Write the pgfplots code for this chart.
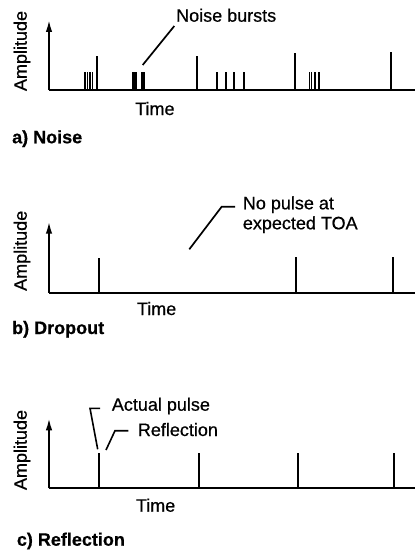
\documentclass[border=0pt]{standalone}
\usepackage{pgfplots}
\pgfplotsset{compat=1.18}
\usetikzlibrary{arrows.meta}
\usepackage{fontspec}
\setmainfont[FakeBold=0.6]{Liberation Sans}
\newfontfamily\labelfont[FakeBold=0.6]{Liberation Sans}
\pgfplotsset{
  pulseaxis/.style={
    scale only axis, width=366pt, anchor=south west,
    xmin=49, xmax=415, ymin=0,
    axis x line=bottom, axis y line=left,
    xtick=\empty, ytick=\empty, clip=false,
    x axis line style={-, line width=2pt},
    y axis line style={-{Latex[length=12pt,width=6.5pt]}, line width=1.8pt},
  },
  pulse/.style={ycomb, black, line width=2.1pt, mark=none},
}
\begin{document}
\fontsize{18}{21}\selectfont
\begin{tikzpicture}
\useasboundingbox (0pt,0pt) rectangle (417pt,-552pt);
% ---------- a) Noise ----------
\begin{axis}[pulseaxis, at={(49pt,-90pt)}, height=70pt, ymax=70]
\addplot[pulse] coordinates {(97.3,34.5) (196.7,34.5) (295,37) (390.7,38)};
\addplot[pulse, line width=1.4pt] coordinates {(85,18) (87.7,18) (90,18) (92.7,18)};
\addplot[pulse, line width=4.6pt] coordinates {(134.7,18) (142.8,18)};
\addplot[pulse, line width=1.8pt] coordinates {(217.3,18.5) (225.7,18.5) (234.3,18.5) (244,18.5)};
\addplot[pulse, line width=1.4pt] coordinates {(309.3,18.5) (311.7,18.5) (315,18.5) (319,18.5)};
\end{axis}
% ---------- b) Dropout ----------
\begin{axis}[pulseaxis, at={(49pt,-292.7pt)}, height=71pt, ymax=71]
\addplot[pulse] coordinates {(98.7,35) (296,35.5) (393.3,35.5)};
\end{axis}
% ---------- c) Reflection ----------
\begin{axis}[pulseaxis, at={(49pt,-488.3pt)}, height=70pt, ymax=70]
\addplot[pulse] coordinates {(98.7,35) (199,35) (297.7,35.5) (394.3,35.5)};
\end{axis}
\begin{scope}[x=1pt,y=1pt]
\node[rotate=90, anchor=base] at (26.7,-51) {\labelfont Amplitude};
\node[anchor=base west, inner sep=0] at (135,-115) {\labelfont Time};
\node[anchor=base west, inner sep=0] at (12,-143.3) {\bfseries a) Noise};
\node[anchor=base west, inner sep=0] at (176,-21.7) {\labelfont Noise bursts};
\draw[line width=1.7pt] (174.3,-26) -- (142.7,-65);
\node[rotate=90, anchor=base] at (26.7,-250.8) {\labelfont Amplitude};
\node[anchor=base west, inner sep=0] at (136.7,-315) {\labelfont Time};
\node[anchor=base west, inner sep=0] at (12,-334) {\bfseries b) Dropout};
\node[anchor=base west, inner sep=0] at (242.7,-209.3) {\labelfont No pulse at};
\node[anchor=base west, inner sep=0] at (242.7,-229.3) {\labelfont expected TOA};
\draw[line width=1.7pt] (189.3,-249.3) -- (221.7,-206.7) -- (235,-206.7);
\node[rotate=90, anchor=base] at (26.7,-450) {\labelfont Amplitude};
\node[anchor=base west, inner sep=0] at (135.7,-511.7) {\labelfont Time};
\node[anchor=base west, inner sep=0] at (16.7,-545.7) {\bfseries c) Reflection};
\node[anchor=base west, inner sep=0] at (111.7,-410.7) {\labelfont Actual pulse};
\node[anchor=base west, inner sep=0] at (137.7,-436) {\labelfont Reflection};
\draw[line width=1.6pt] (100,-408.3) -- (90,-408.3) -- (97.7,-449.3);
\draw[line width=1.6pt] (128.3,-430.7) -- (115,-430.7) -- (106,-450);
\end{scope}
\end{tikzpicture}
\end{document}
